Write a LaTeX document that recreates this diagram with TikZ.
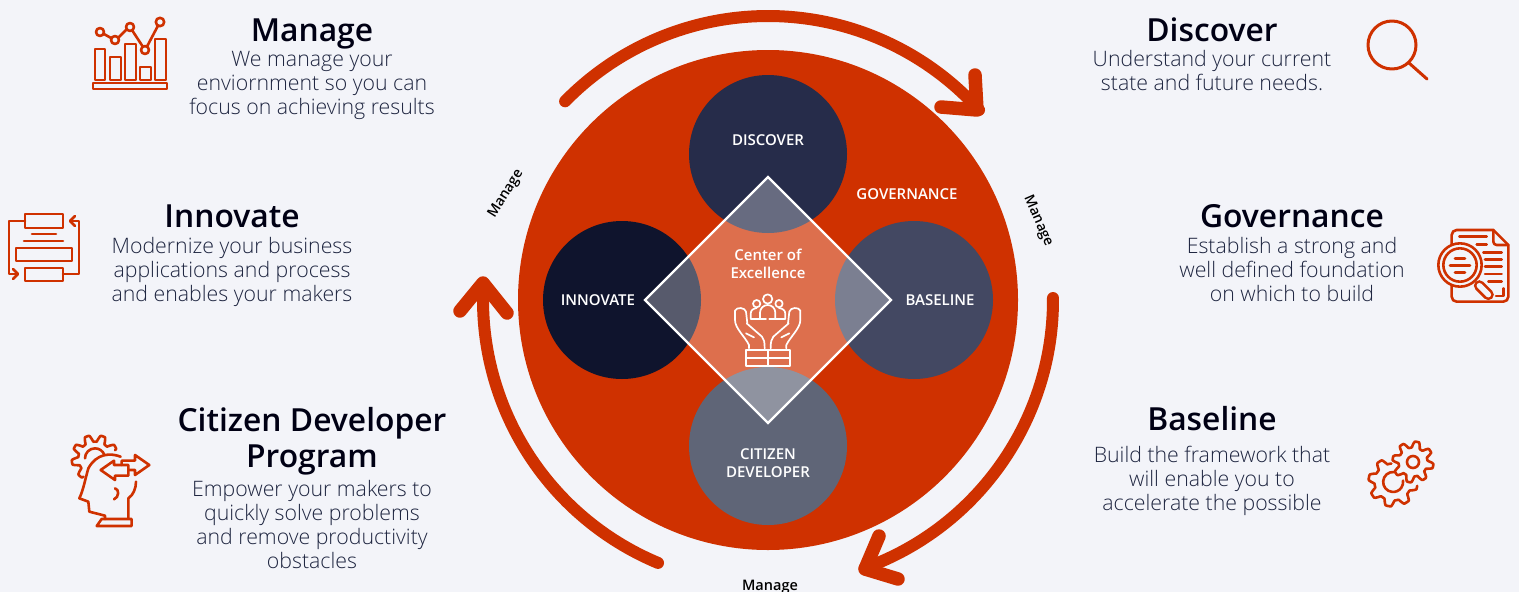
\documentclass[tikz,border=0pt]{standalone}
\usepackage{fontspec}
\setmainfont{Open Sans}
\newfontfamily\oslight{Open Sans Light}
\newfontfamily\ossemi{Open Sans Semibold}
\usetikzlibrary{calc}
\definecolor{rust}{HTML}{CF3100}
\definecolor{pagebg}{HTML}{F3F4F9}
\definecolor{inktext}{HTML}{1E2540}
\definecolor{cdisc}{HTML}{262C4A}
\definecolor{cinno}{HTML}{0F142D}
\definecolor{cbase}{HTML}{434862}
\definecolor{cciti}{HTML}{5F6577}
\tikzset{
  ttl/.style={font=\ossemi\fontsize{31.8}{36}\selectfont,text=black!92!blue,align=center,inner sep=0},
  bodytext/.style={font=\oslight\fontsize{21.3}{24}\selectfont,text=inktext,align=center,inner sep=0},
  inner/.style={font=\ossemi\fontsize{15}{18}\selectfont,text=white,align=center,inner sep=0},
  mng/.style={font=\ossemi\fontsize{14}{16}\selectfont,text=black,inner sep=0},
  ring/.style={draw=rust,line width=12pt,line cap=round,line join=round},
  ringhead/.style={draw=rust,line width=13.5pt,line cap=round,line join=round},
  ico/.style={draw=rust,line width=2.6pt,line cap=round,line join=round},
  hand/.style={draw=white,line width=1.7pt,line cap=round,line join=round},
  bub/.style={circle,minimum size=158pt,inner sep=0},
}
\newcommand{\gearpath}[7]{% cx cy rmid amp teeth from to
  \draw[ico] plot[smooth,domain=#6:#7,samples=120]
   ({#1+(#3+#4*max(-1,min(1,1.6*sin(#5*\x))))*cos(\x)},{#2+(#3+#4*max(-1,min(1,1.6*sin(#5*\x))))*sin(\x)});}
\begin{document}
\begin{tikzpicture}[x=1pt,y=-1pt]
\useasboundingbox (0,0) rectangle (1519,592);
\fill[pagebg] (0,0) rectangle (1519,592);
\coordinate (c) at (768,300);
% main disc
\fill[rust] (c) circle[radius=250];
\node[bub,fill=cdisc] (ndisc) at (768,154) {};
\node[bub,fill=cinno] (ninno) at (622,300) {};
\node[bub,fill=cbase] (nbase) at (914,300) {};
\node[bub,fill=cciti] (nciti) at (768,446) {};
\filldraw[draw=white,fill=white,fill opacity=0.3,line width=2.4pt,miter limit=10] (768,177)--(891,300)--(768,423)--(645,300)--cycle;
\node[inner] at (768,140) (tdisc) {DISCOVER};
\node[inner] at (598,300) (tinno) {INNOVATE};
\node[inner] at (940,300) (tbase) {BASELINE};
\node[inner] at (768,463) (tciti) {CITIZEN\\DEVELOPER};
\node[inner] at (907,194) (tgov) {GOVERNANCE};
\node[inner] at (768,264) (tcoe) {Center of\\Excellence};
% ring arrows
\draw[ring] ($(c)+(224.4:284)$) arc[start angle=224.4,end angle=318,radius=284];
\draw[ringhead] (975,75)--(977,110)--(941,107);
\draw[ring] ($(c)+(-0.4:285)$) arc[start angle=-0.4,end angle=70.2,radius=285];
\draw[ringhead] (879,536)--(865,569)--(898,579);
\draw[ring] ($(c)+(112.7:285)$) arc[start angle=112.7,end angle=183.4,radius=285];
\draw[ringhead] (460,311)--(483,283)--(507,313);
\node[mng,rotate=58] at (506,194) (m1) {Manage};
\node[mng,rotate=-66.5] at (1038,221) (m2) {Manage};
\node[mng,font=\ossemi\fontsize{14.5}{16}\selectfont] at (770,587) (m3) {Manage};
% text blocks
\node[ttl] at (312,34) (h1) {Manage};
\node[bodytext] at (312,85) (b1) {We manage your\\enviornment so you can\\focus on achieving results};
\node[ttl] at (232,216) (h2) {Innovate};
\node[bodytext] at (232,272) (b2) {Modernize your business\\applications and process\\and enables your makers};
\node[ttl] at (312,441.5) (h3) {Citizen Developer\\Program};
\node[bodytext] at (312,525) (b3) {Empower your makers to\\quickly solve problems\\and remove productivity\\obstacles};
\node[ttl] at (1212,30) (h4) {Discover};
\node[bodytext] at (1212,71) (b4) {Understand your current\\state and future needs.};
\node[ttl] at (1292,216) (h5) {Governance};
\node[bodytext] at (1292,270) (b5) {Establish a strong and\\well defined foundation\\on which to build};
\node[ttl] at (1212,419) (h6) {Baseline};
\node[bodytext] at (1212,481) (b6) {Build the framework that\\will enable you to\\accelerate the possible};
% Manage icon
\begin{scope}[ico]
\draw (95,80) rectangle (105,49);
\draw (110,80) rectangle (121,57);
\draw (125,80) rectangle (136,44);
\draw (140,80) rectangle (151,67);
\draw (155,80) rectangle (166,39);
\draw (93,83) rectangle (167,89);
\draw (100,32) circle[radius=4];
\draw (115,40) circle[radius=4];
\draw (130,27) circle[radius=4];
\draw (145,50) circle[radius=4];
\draw (160,22) circle[radius=4.2];
\draw (103.6,33.8)--(111.4,38.2) (118.3,37.7)--(126.7,29.3) (132.2,30.4)--(142.8,46.6) (147,46.5)--(158,25.7);
% Innovate icon
\draw (25,214) rectangle (63,228);
\draw (32,234)--(56,234) (24,241)--(63,241);
\draw (16,248) rectangle (72,261);
\draw (25,268) rectangle (63,281);
\draw (25,221)--(9,221)--(9,274)--(17,274);
\draw (13,269)--(18,274)--(13,279);
\draw (63,274)--(79,274)--(79,221)--(71,221);
\draw (75,216)--(70,221)--(75,226);
% Discover icon
\draw[line width=3pt] (1392,45) circle[radius=24];
\draw[line width=3pt] (1409,63)--(1427,79);
\end{scope}
% Citizen icon
\begin{scope}[shift={(60,420)},scale=1/3,ico]
\draw (182,110) .. controls (150,98) and (110,100) .. (85,145) .. controls (75,180) and (70,210) .. (58,235) -- (85,245) -- (88,275) -- (135,287) -- (135,297);
\draw (125,297)--(215,297)--(215,318)--(110,318)--cycle;
\draw (205,295)--(205,235) .. controls (220,225) and (228,205) .. (228,185);
\draw (165,205) .. controls (178,207) and (178,232) .. (162,238);
\draw (122,150)--(162,122)--(162,135)--(205,135)--(205,167)--(165,167)--(165,180)--cycle;
\draw (185,135)--(185,122)--(225,122)--(225,105)--(268,135)--(225,165)--(225,150)--(205,150);
\draw (75,115) arc[start angle=180,end angle=340,radius=30];
\end{scope}
\begin{scope}[shift={(60,420)},scale=1/3]
\gearpath{105}{115}{60}{10}{9}{122}{338}
\end{scope}
% Baseline icon
\gearpath{1413}{462}{17.5}{3}{8}{0}{360}
\draw[ico] (1413,462) circle[radius=6];
\gearpath{1393}{482}{21.5}{3}{8}{-351}{-95}
\draw[ico] (1394,472) arc[start angle=-85,end angle=-368,radius=10];
% Governance icon
\begin{scope}[shift={(1420,220)},scale=1/3,ico]
\draw (95,75)--(95,45) arc[start angle=180,end angle=270,radius=15]--(220,30)--(265,75)--(265,230) arc[start angle=0,end angle=90,radius=15]--(110,245) arc[start angle=90,end angle=180,radius=15]--(95,195);
\draw (220,30)--(220,65) arc[start angle=180,end angle=90,radius=10]--(265,75);
\draw (118,50)--(200,50) (170,73)--(200,73) (190,97)--(245,97) (195,118)--(245,118) (195,140)--(245,140) (195,162)--(245,162) (205,184)--(245,184) (228,228)--(250,228)--(250,205);
\draw (120,135) circle[radius=65] (120,135) circle[radius=50];
\draw (105,115)--(135,115) (90,136)--(150,136) (105,158)--(135,158);
\draw[line width=11pt] (178,197)--(205,224);
\draw[pagebg,line width=5.5pt] (178,197)--(205,224);
\end{scope}
% Hands icon
\begin{scope}[shift={(640,170)},scale=1/3,hand]
\draw (383,387) circle[radius=14] (350,401) circle[radius=11] (417,401) circle[radius=11];
\draw (360,445)--(360,428) arc[start angle=180,end angle=360,radius=23]--(406,445);
\draw (378,447)--(332,447)--(332,432) .. controls (332,420) and (340,416) .. (350,414);
\draw (388,447)--(436,447)--(436,432) .. controls (436,420) and (428,416) .. (417,414);
\foreach \sx/\ox in {1/0,-1/766} {
\begin{scope}[xshift=\ox*1pt/3*3,xscale=\sx]
\draw (327,535)--(327,525) .. controls (315,500) and (285,475) .. (285,450)--(285,422) .. controls (290,410) and (315,412) .. (318,425)--(322,460);
\draw (320,460)--(366,500) .. controls (372,508) and (374,515) .. (374,535);
\draw (318,490)--(342,502);
\draw (317,540) rectangle (383,587);
\draw (317,565)--(383,565);
\end{scope}}
\end{scope}
\end{tikzpicture}
\end{document}
